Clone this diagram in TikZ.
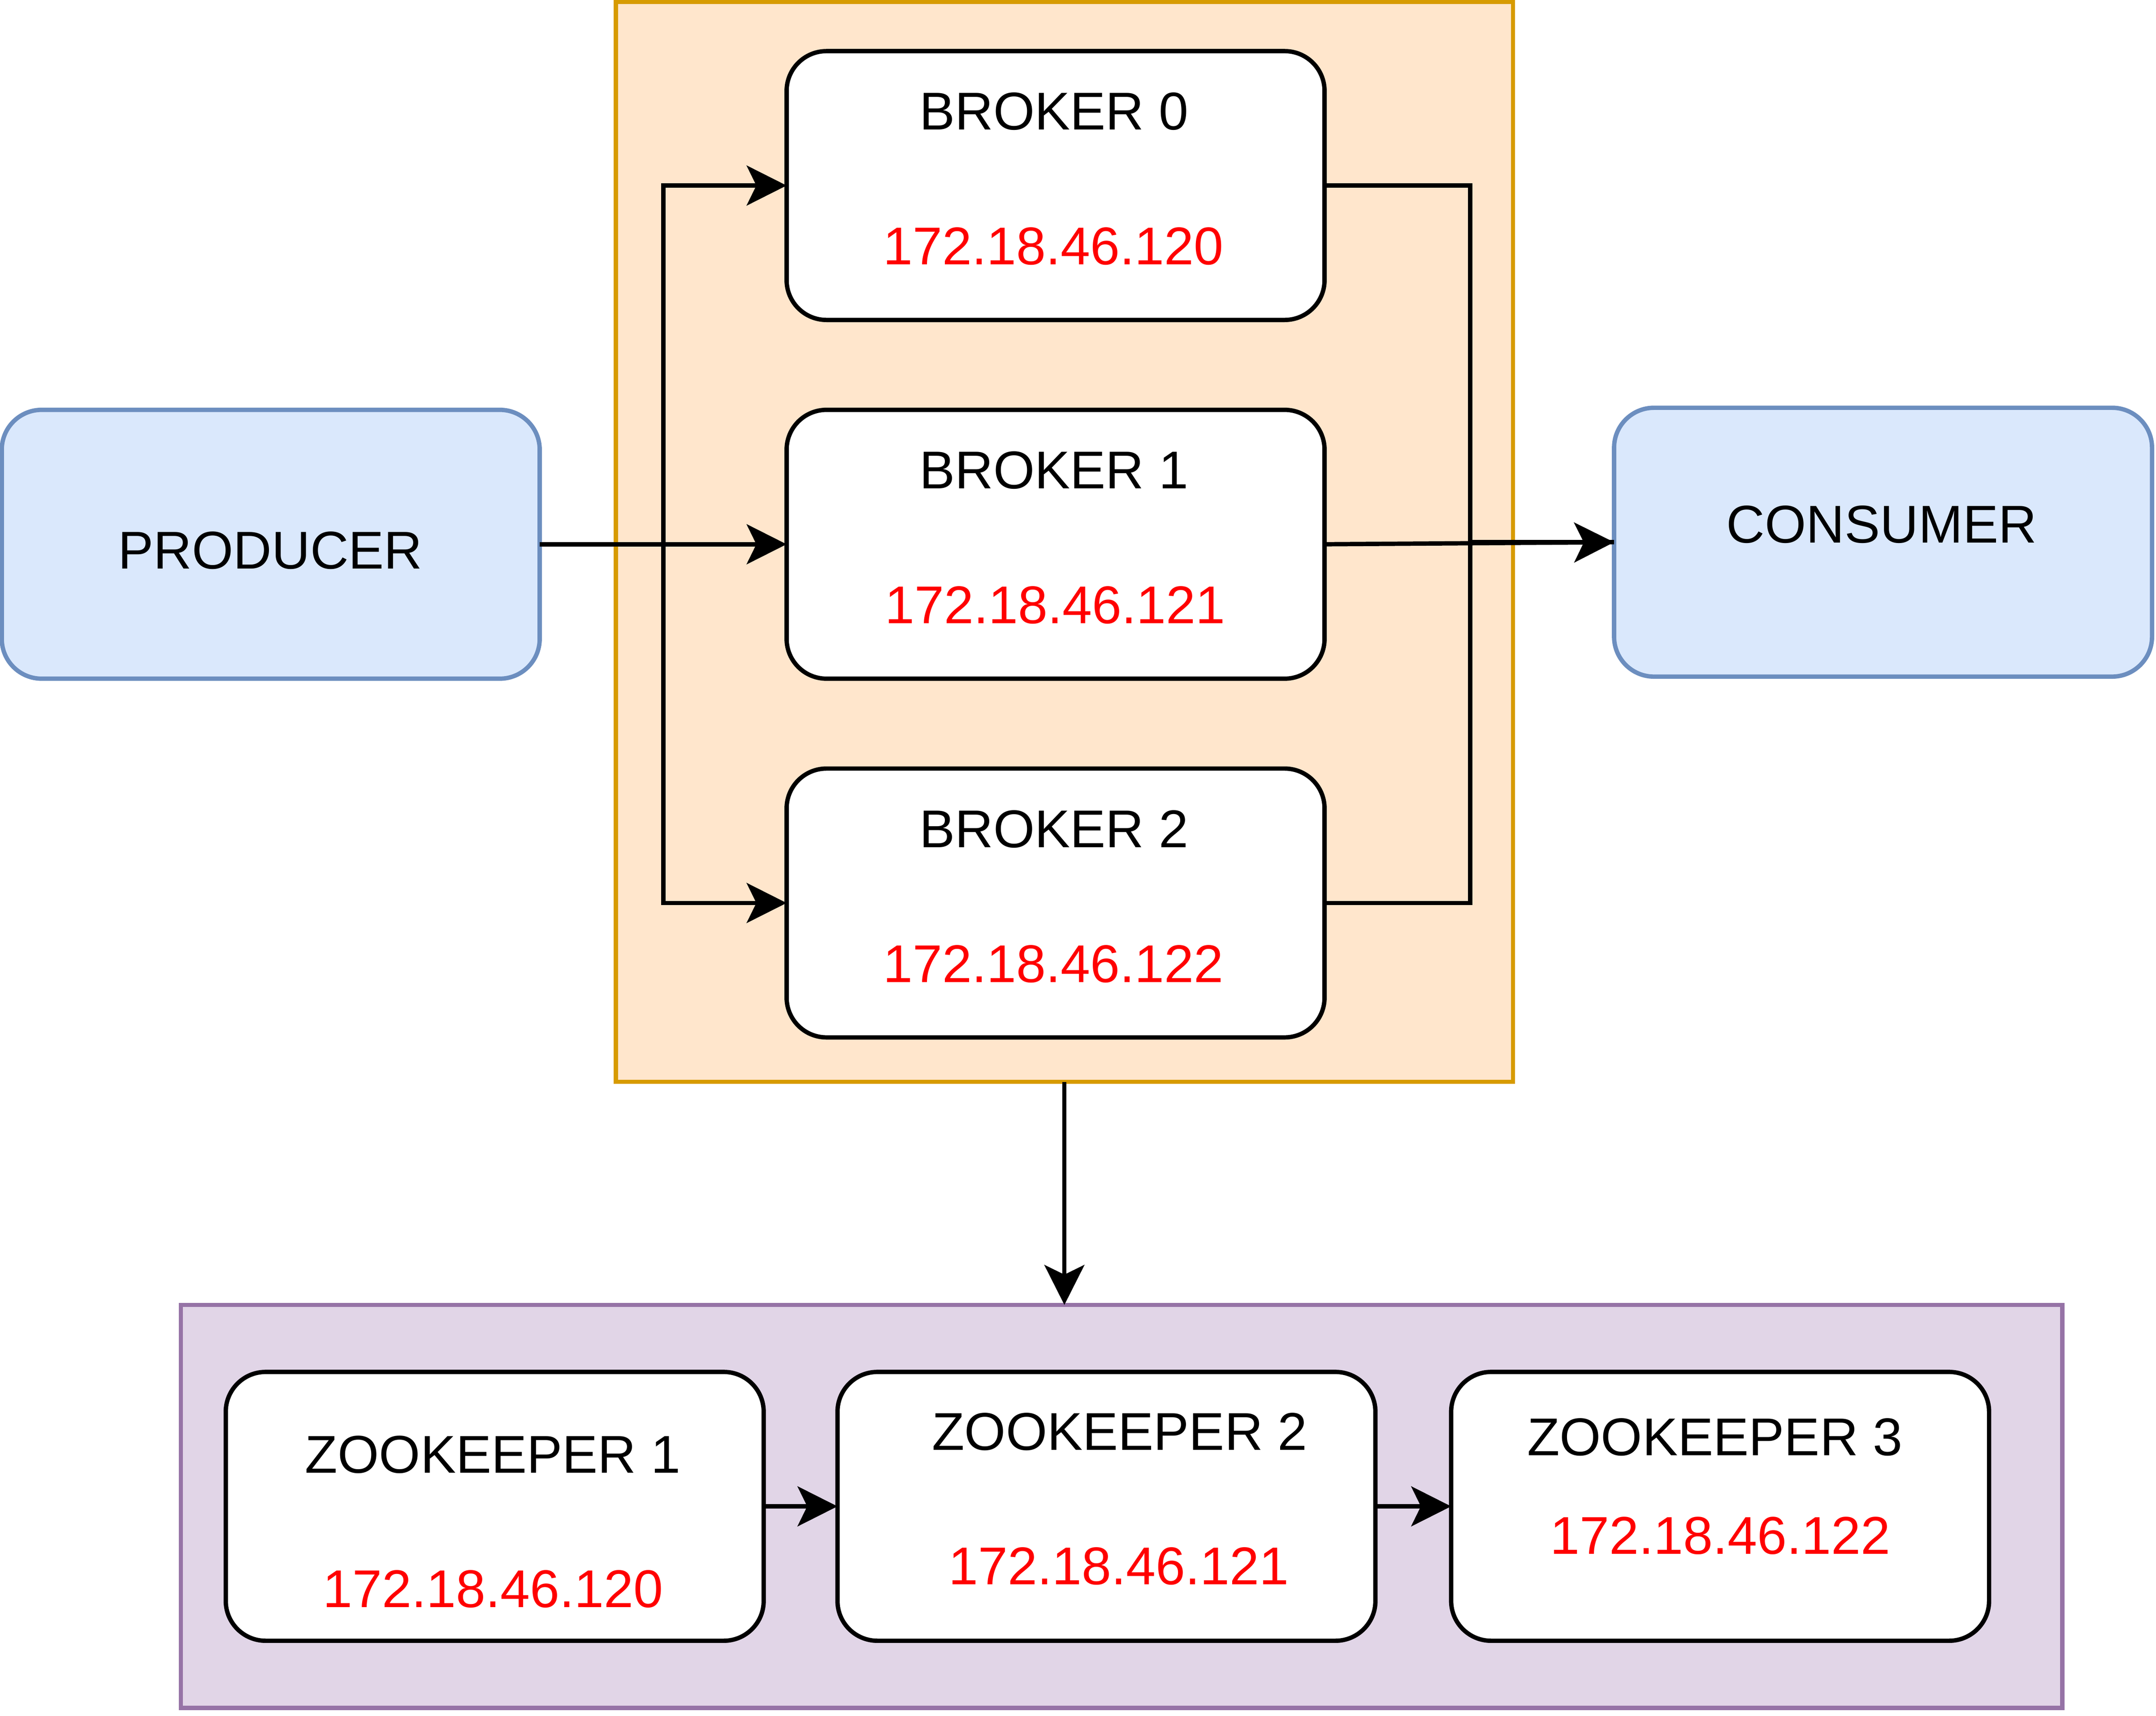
\documentclass[tikz,border=0pt]{standalone}
\usepackage{fontspec}
\setmainfont{Liberation Sans}
\usepackage{tikz}
\usetikzlibrary{arrows.meta}
\definecolor{kafkafill}{HTML}{FFE6CC}
\definecolor{kafkaline}{HTML}{D79B00}
\definecolor{clientfill}{HTML}{DAE8FC}
\definecolor{clientline}{HTML}{6C8EBF}
\definecolor{zkfill}{HTML}{E1D5E7}
\definecolor{zkline}{HTML}{9673A6}
\definecolor{iptext}{HTML}{FF0000}
\tikzstyle{server}=[rectangle, rounded corners=0.29cm, draw, fill=white, minimum width=3.91cm, minimum height=1.955cm, inner sep=0pt, outer sep=0pt]
\tikzstyle{client}=[server, draw=clientline, fill=clientfill]
\tikzstyle{cluster}=[rectangle, draw, inner sep=0pt, outer sep=0pt]
\tikzset{hostname/.style={anchor=base, inner sep=0pt, font=\fontsize{11pt}{13pt}\selectfont},
  hostip/.style={hostname, text=iptext},
  flow/.style={-{Stealth[length=2.9mm, width=2.9mm, inset=0.7mm]}}}

\begin{document}
\begin{tikzpicture}[x=0.01cm, y=-0.01cm, line width=0.9pt]
    \useasboundingbox (0,0) rectangle (1568,1248.5);
    % kafka cluster and zookeeper ensemble
    \node[cluster, draw=kafkaline, fill=kafkafill, minimum width=6.522cm, minimum height=7.853cm] (kafka) at (774.1,394.25) {};
    \node[cluster, draw=zkline, fill=zkfill, minimum width=13.676cm, minimum height=2.93cm] (ensemble) at (815.7,1096) {};
    \node[client] (producer) at (196.9,396) {};
    \node[client] (consumer) at (1369.5,394.5) {};
    \node[server] (broker0) at (767.7,135) {};
    \node[server] (broker1) at (767.7,396) {};
    \node[server] (broker2) at (767.7,657) {};
    \node[server] (zk1) at (359.8,1096) {};
    \node[server] (zk2) at (804.7,1096) {};
    \node[server] (zk3) at (1251,1096) {};
    % texts
    \node[hostname] (producertext) at (196.6,413.7) {PRODUCER};
    \node[hostname] (consumertext) at (1368.5,395) {CONSUMER};
    \node[hostname] (broker0name) at (766.5,94.4) {BROKER 0};
    \node[hostip] (broker0ip) at (766.2,192.4) {172.18.46.120};
    \node[hostname] (broker1name) at (766.5,355.6) {BROKER 1};
    \node[hostip] (broker1ip) at (767.5,453.6) {172.18.46.121};
    \node[hostname] (broker2name) at (766.5,616.6) {BROKER 2};
    \node[hostip] (broker2ip) at (766.2,714.6) {172.18.46.122};
    \node[hostname] (zk1name) at (358.5,1071.7) {ZOOKEEPER 1};
    \node[hostip] (zk1ip) at (358.5,1169.5) {172.18.46.120};
    \node[hostname] (zk2name) at (814.3,1055.1) {ZOOKEEPER 2};
    \node[hostip] (zk2ip) at (813.8,1152.8) {172.18.46.121};
    \node[hostname] (zk3name) at (1247.2,1058.9) {ZOOKEEPER 3};
    \node[hostip] (zk3ip) at (1251.2,1130.6) {172.18.46.122};
    % connectors
    \draw[flow] (producer.east) -- (broker1.west);
    \draw[flow] (producer.east) -- ++(90,0) |- (broker0.west);
    \draw[flow] (producer.east) -- ++(90,0) |- (broker2.west);
    \draw (broker0.east) -- ++(106,0) |- (consumer.west);
    \draw (broker2.east) -- ++(106,0) |- (consumer.west);
    \draw[flow] (broker1.east) -- (consumer.west);
    \draw[flow] (kafka.south) -- (kafka.south |- ensemble.north);
    \draw[flow] (zk1) -- (zk2);
    \draw[flow] (zk2) -- (zk3);
  \end{tikzpicture}
\end{document}
